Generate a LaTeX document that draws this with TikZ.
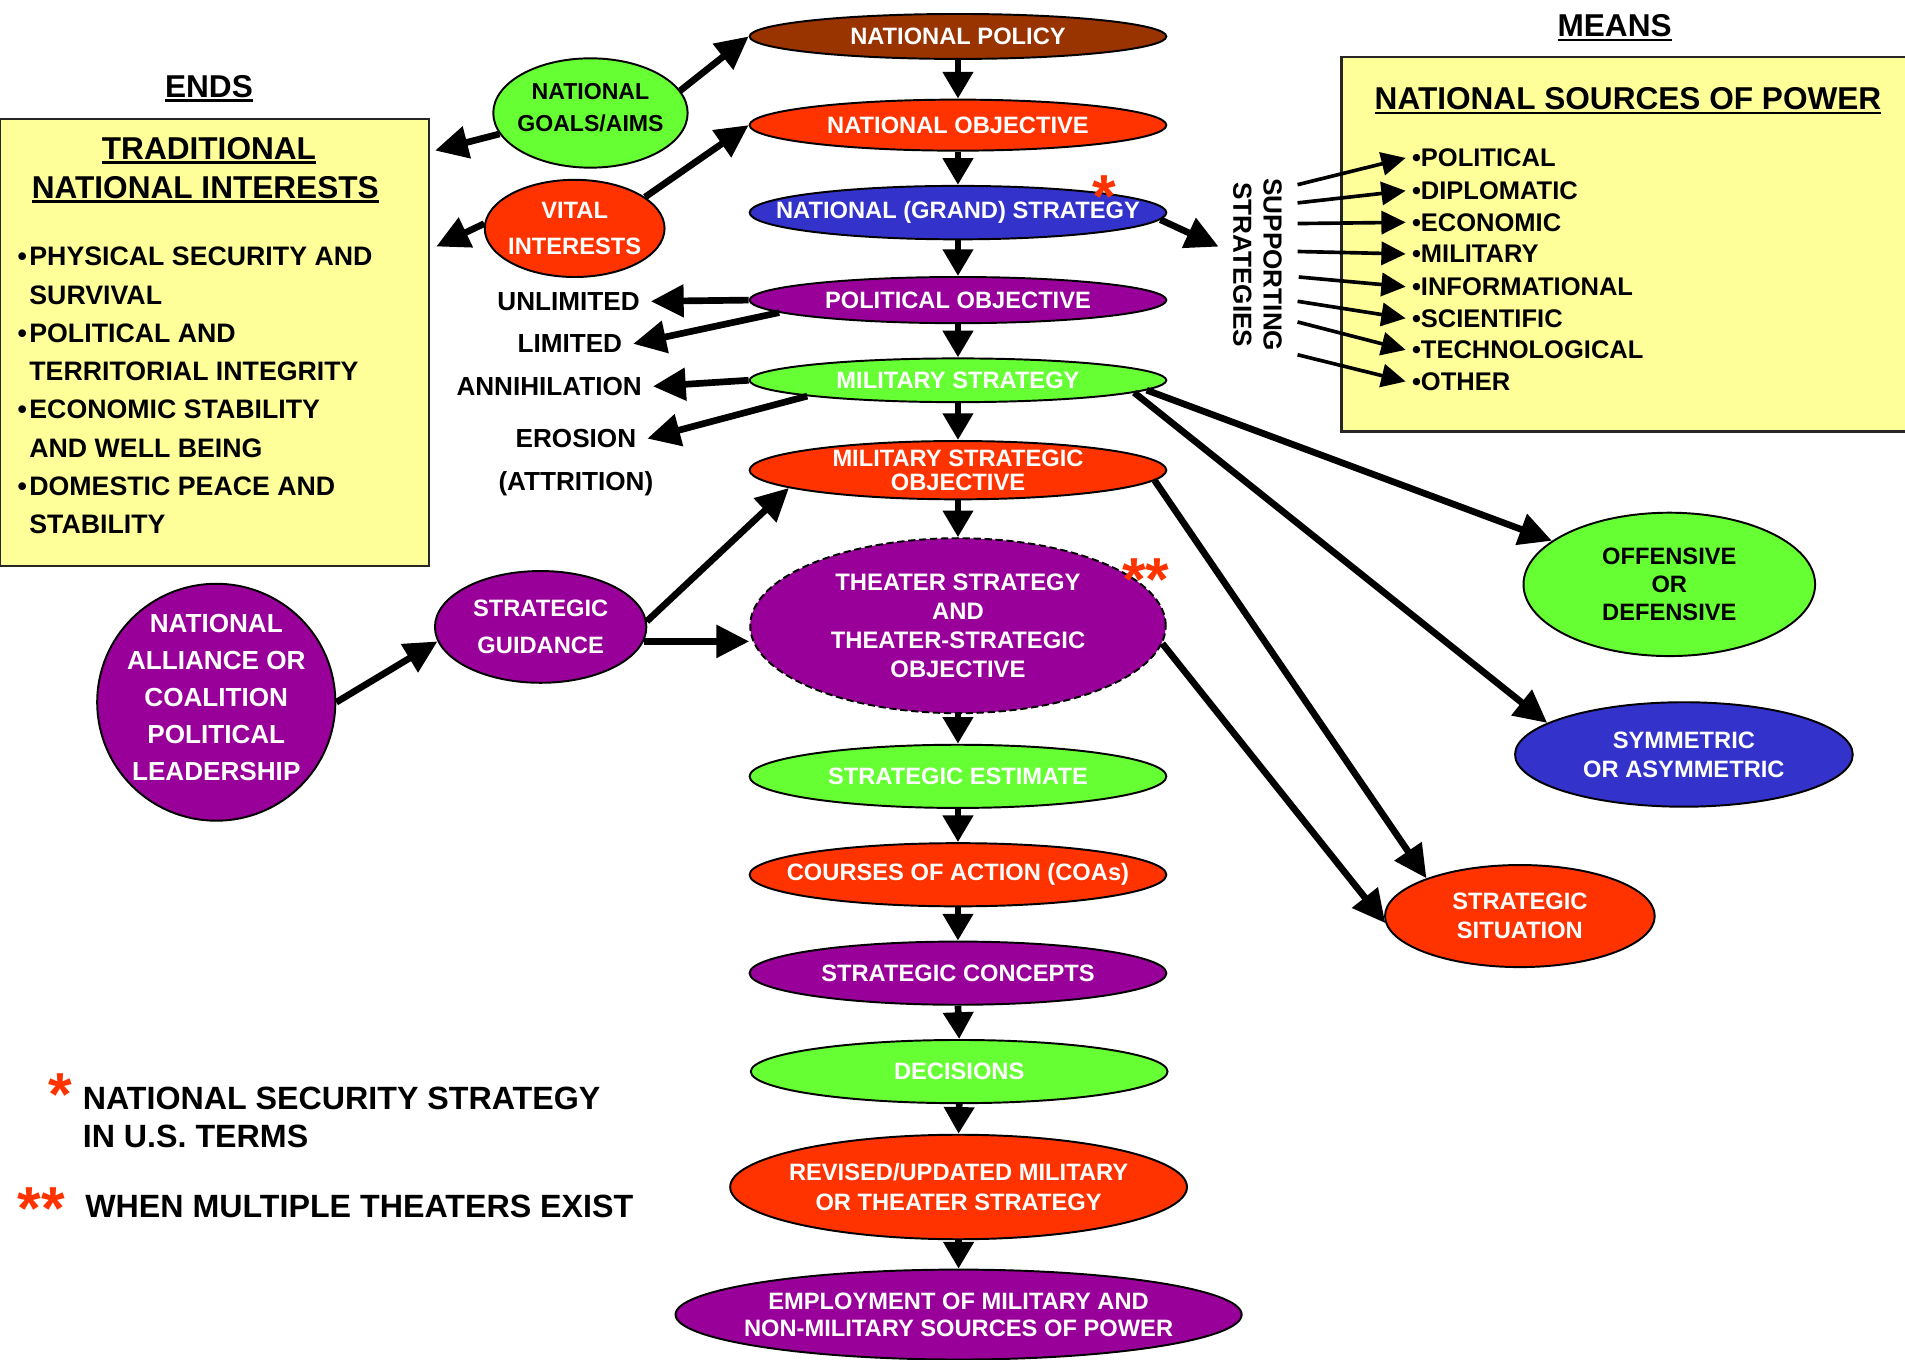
\documentclass[tikz,border=0pt]{standalone}
\usepackage{fontspec}
\setmainfont{Liberation Sans}
\usetikzlibrary{shapes.geometric,arrows.meta,calc}
\definecolor{cbrown}{HTML}{993300}
\definecolor{cred}{HTML}{FF3300}
\definecolor{cblue}{HTML}{3333CC}
\definecolor{cpurple}{HTML}{990099}
\definecolor{cgreen}{HTML}{66FF33}
\definecolor{cyellow}{HTML}{FFFF99}
\newcommand\fs[2]{\fontsize{#1}{#2}\selectfont\bfseries}
\newsavebox\ulbox
\newcommand\ulin[1]{\sbox\ulbox{#1}\rlap{\rule[-4pt]{\wd\ulbox}{2.2pt}}\usebox\ulbox}
\newcommand\dropby[1]{\rule[-#1]{0pt}{#1}}
\begin{document}
\begin{tikzpicture}[x=1pt,y=-1pt,
  ell/.style={ellipse, draw=black, line width=1.6pt, inner sep=-40pt, align=center, text=white, font=\fs{19.5}{20}},
  colE/.style={ell, minimum width=343pt},
  lab/.style={inner xsep=9pt, inner ysep=0pt, font=\fs{21.5}{26}},
  bigArr/.style={line width=5.5pt, -{Triangle[length=27pt,width=26pt]}},
  vArr/.style={line width=5.5pt, -{Triangle[length=22pt,width=24pt]}},
  thinArr/.style={line width=3pt, -{Triangle[length=20pt,width=19pt]}},
  star/.style={text=cred, anchor=base, inner sep=0pt, font=\fs{50}{50}},
  titleT/.style={anchor=base, font=\fs{26}{30}, inner sep=0pt},
  bul/.style={anchor=west, inner xsep=5pt, inner ysep=0pt, font=\fs{21}{26}},
  boxN/.style={draw=black!85, line width=2.2pt, fill=cyellow, inner sep=0pt}
  ]
\useasboundingbox (0,0) rectangle (1568,1119);

% boxes
\node[boxN, minimum width=353pt, minimum height=368pt] (ends) at (176.5,282) {};
\node[boxN, minimum width=471pt, minimum height=308pt] (means) at (1339.5,201) {};

% titles
\node[titleT] (endsT) at (172,80) {\ulin{ENDS}};
\node[titleT] (meansT) at (1329,30) {\ulin{MEANS}};
\node[titleT] (tradT) at (172,131) {\ulin{TRADITIONAL}};
\node[titleT] (natIntT) at (169,163) {\ulin{NATIONAL INTERESTS}};
\node[titleT] (nspT) at (1340,90) {\ulin{NATIONAL SOURCES OF POWER}};

% ends list
\node[anchor=west, align=left, font=\fs{22}{31.5}, inner sep=0pt] (endsList) at (24,321.5)
 {\llap{•\hspace{2pt}}PHYSICAL SECURITY AND\\SURVIVAL\\\llap{•\hspace{2pt}}POLITICAL AND\\TERRITORIAL INTEGRITY\\\llap{•\hspace{2pt}}ECONOMIC STABILITY\\AND WELL BEING\\\llap{•\hspace{2pt}}DOMESTIC PEACE AND\\STABILITY};

% means list
\node[bul] (b1) at (1157,130) {•POLITICAL};
\node[bul] (b2) at (1157,157) {•DIPLOMATIC};
\node[bul] (b3) at (1157,183) {•ECONOMIC};
\node[bul] (b4) at (1157,209) {•MILITARY};
\node[bul] (b5) at (1157,236) {•INFORMATIONAL};
\node[bul] (b6) at (1157,262) {•SCIENTIFIC};
\node[bul] (b7) at (1157,288) {•TECHNOLOGICAL};
\node[bul] (b8) at (1157,314) {•OTHER};

\node[rotate=-90, align=center, font=\fs{21.5}{25}, inner sep=0pt] (supp) at (1035,218) {SUPPORTING\\STRATEGIES};
\coordinate (s1) at (1068,152);
\coordinate (s2) at (1068,167);
\coordinate (s3) at (1068,184);
\coordinate (s4) at (1068,207);
\coordinate (s5) at (1069,228);
\coordinate (s6) at (1068,248);
\coordinate (s7) at (1068,265);
\coordinate (s8) at (1068,292);
\coordinate (supptip) at (1003,203);

% central column
\node[colE, fill=cbrown, minimum height=37pt] (np) at (788.5,30) {NATIONAL POLICY};
\node[colE, fill=cred, minimum height=42pt] (no) at (788.5,103) {NATIONAL OBJECTIVE};
\node[colE, fill=cblue, minimum height=44pt] (gs) at (788.5,175) {NATIONAL (GRAND) STRATEGY};
\node[colE, fill=cpurple, minimum height=38pt] (po) at (788.5,247) {POLITICAL OBJECTIVE};
\node[colE, fill=cgreen, minimum height=36pt] (ms) at (788.5,313) {MILITARY STRATEGY};
\node[colE, fill=cred, minimum height=48pt] (mso) at (788.5,387) {MILITARY STRATEGIC\\OBJECTIVE};
\node[colE, fill=cpurple, dashed, dash pattern=on 6pt off 3pt, minimum width=342pt, minimum height=144pt, font=\fs{19.6}{24}] (th) at (788.5,515) {THEATER STRATEGY\\AND\\THEATER-STRATEGIC\\OBJECTIVE};
\node[colE, fill=cgreen, minimum height=52pt] (se) at (788.5,639) {STRATEGIC ESTIMATE};
\node[colE, fill=cred, minimum height=52pt] (coa) at (788.5,720) {COURSES OF ACTION (COAs)};
\node[colE, fill=cpurple, minimum height=52pt] (sc) at (788.5,801) {STRATEGIC CONCEPTS};
\node[colE, fill=cgreen, minimum height=52pt] (dec) at (789.5,882) {DECISIONS};
\node[ell, fill=cred, minimum width=376pt, minimum height=86pt, font=\fs{19.5}{24}] (rev) at (789,977) {REVISED/UPDATED MILITARY\\OR THEATER STRATEGY};
\node[ell, fill=cpurple, minimum width=466pt, minimum height=74pt, font=\fs{19.5}{22}] (emp) at (789,1082) {EMPLOYMENT OF MILITARY AND\\NON-MILITARY SOURCES OF POWER};

% side ellipses
\node[ell, fill=cgreen, text=black, minimum width=160pt, minimum height=90pt, font=\fs{19}{27}] (goals) at (486,93) {NATIONAL\\GOALS/AIMS\dropby{9pt}};
\node[ell, fill=cred, minimum width=148pt, minimum height=80pt, font=\fs{19.5}{29}] (vital) at (473,188) {VITAL\\INTERESTS};
\node[ell, fill=cpurple, minimum width=174pt, minimum height=92pt, font=\fs{19.5}{30}] (sg) at (445,516) {STRATEGIC\\GUIDANCE};
\node[ell, fill=cpurple, minimum width=196pt, minimum height=195pt, font=\fs{21.5}{30.3}] (al) at (178,578) {NATIONAL\\ALLIANCE OR\\COALITION\\POLITICAL\\LEADERSHIP\dropby{8pt}};
\node[ell, fill=cgreen, text=black, minimum width=240pt, minimum height=118pt, font=\fs{19.5}{23.3}] (off) at (1374,481) {OFFENSIVE\\OR\\DEFENSIVE};
\node[ell, fill=cblue, minimum width=278pt, minimum height=86pt, font=\fs{19.5}{24}] (sym) at (1386,621) {SYMMETRIC\\OR ASYMMETRIC};
\node[ell, fill=cred, minimum width=222pt, minimum height=84pt, font=\fs{19.5}{24}] (sit) at (1251,754) {STRATEGIC\\SITUATION};

% left labels
\node[lab] (unl) at (468,248) {UNLIMITED};
\node[lab] (lim) at (469,283) {LIMITED};
\node[lab] (ann) at (452,318) {ANNIHILATION};
\node[lab] (ero) at (474,361) {EROSION};
\node[lab] (att) at (474,398) {(ATTRITION)};

% stars
\node[star] (st1) at (909,179) {*};
\node[star] (st2) at (943,494) {**};
\node[star] (st3) at (50,918) {*};
\node[star] (st4) at (34,1012) {**};

% footnotes
\node[anchor=west, align=left, font=\fs{26.5}{31}, inner sep=0pt] (fn1) at (68,919.5) {NATIONAL SECURITY STRATEGY\\IN U.S. TERMS};
\node[anchor=west, font=\fs{26.5}{31}, inner sep=0pt] (fn2) at (70,993) {WHEN MULTIPLE THEATERS EXIST};

% central arrows
\draw[vArr] (np.south) -- (no.north);
\draw[vArr] (no.south) -- (gs.north);
\draw[vArr] (gs.south) -- (po.north);
\draw[vArr] (po.south) -- (ms.north);
\draw[vArr] (ms.south) -- (mso.north);
\draw[vArr] (mso.south) -- (th.north);
\draw[vArr] (th.south) -- (se.north);
\draw[vArr] (se.south) -- (coa.north);
\draw[vArr] (coa.south) -- (sc.north);
\draw[vArr] (sc.south) -- (dec.north);
\draw[vArr] (dec.south) -- (rev.north);
\draw[vArr] (rev.south) -- (emp.north);

% other arrows
\draw[bigArr] (goals.14) -- (np.west);
\draw[bigArr] (goals.193) -- ($(ends.north east)+(4,27)$);
\draw[bigArr] (vital.177) -- ($(ends.north east)+(5,106)$);
\draw[bigArr] (vital.24) -- (no.west);
\draw[bigArr] (gs.-2) -- (supptip);
\draw[bigArr] (po.west) -- (unl.east);
\draw[bigArr] (po.184) -- (lim.east);
\draw[bigArr] (ms.west) -- (ann.east);
\draw[bigArr] (ms.186) -- (ero.east);
\draw[bigArr] (ms.-3) -- (off);
\draw[bigArr] (ms.-4) -- (sym.167);
\draw[bigArr] (mso.-3) -- (sit.158);
\draw[bigArr] (th.-5) -- (sit.183);
\draw[bigArr] (sg.3) -- (mso.186);
\draw[bigArr] (sg.-8) -- (th.west |- sg.-8);
\draw[bigArr] (al.east) -- (sg.188);

\draw[thinArr] (s1) -- (b1.west);
\draw[thinArr] (s2) -- (b2.west);
\draw[thinArr] (s3) -- (b3.west);
\draw[thinArr] (s4) -- (b4.west);
\draw[thinArr] (s5) -- (b5.west);
\draw[thinArr] (s6) -- (b6.west);
\draw[thinArr] (s7) -- (b7.west);
\draw[thinArr] (s8) -- (b8.west);
\end{tikzpicture}
\end{document}
